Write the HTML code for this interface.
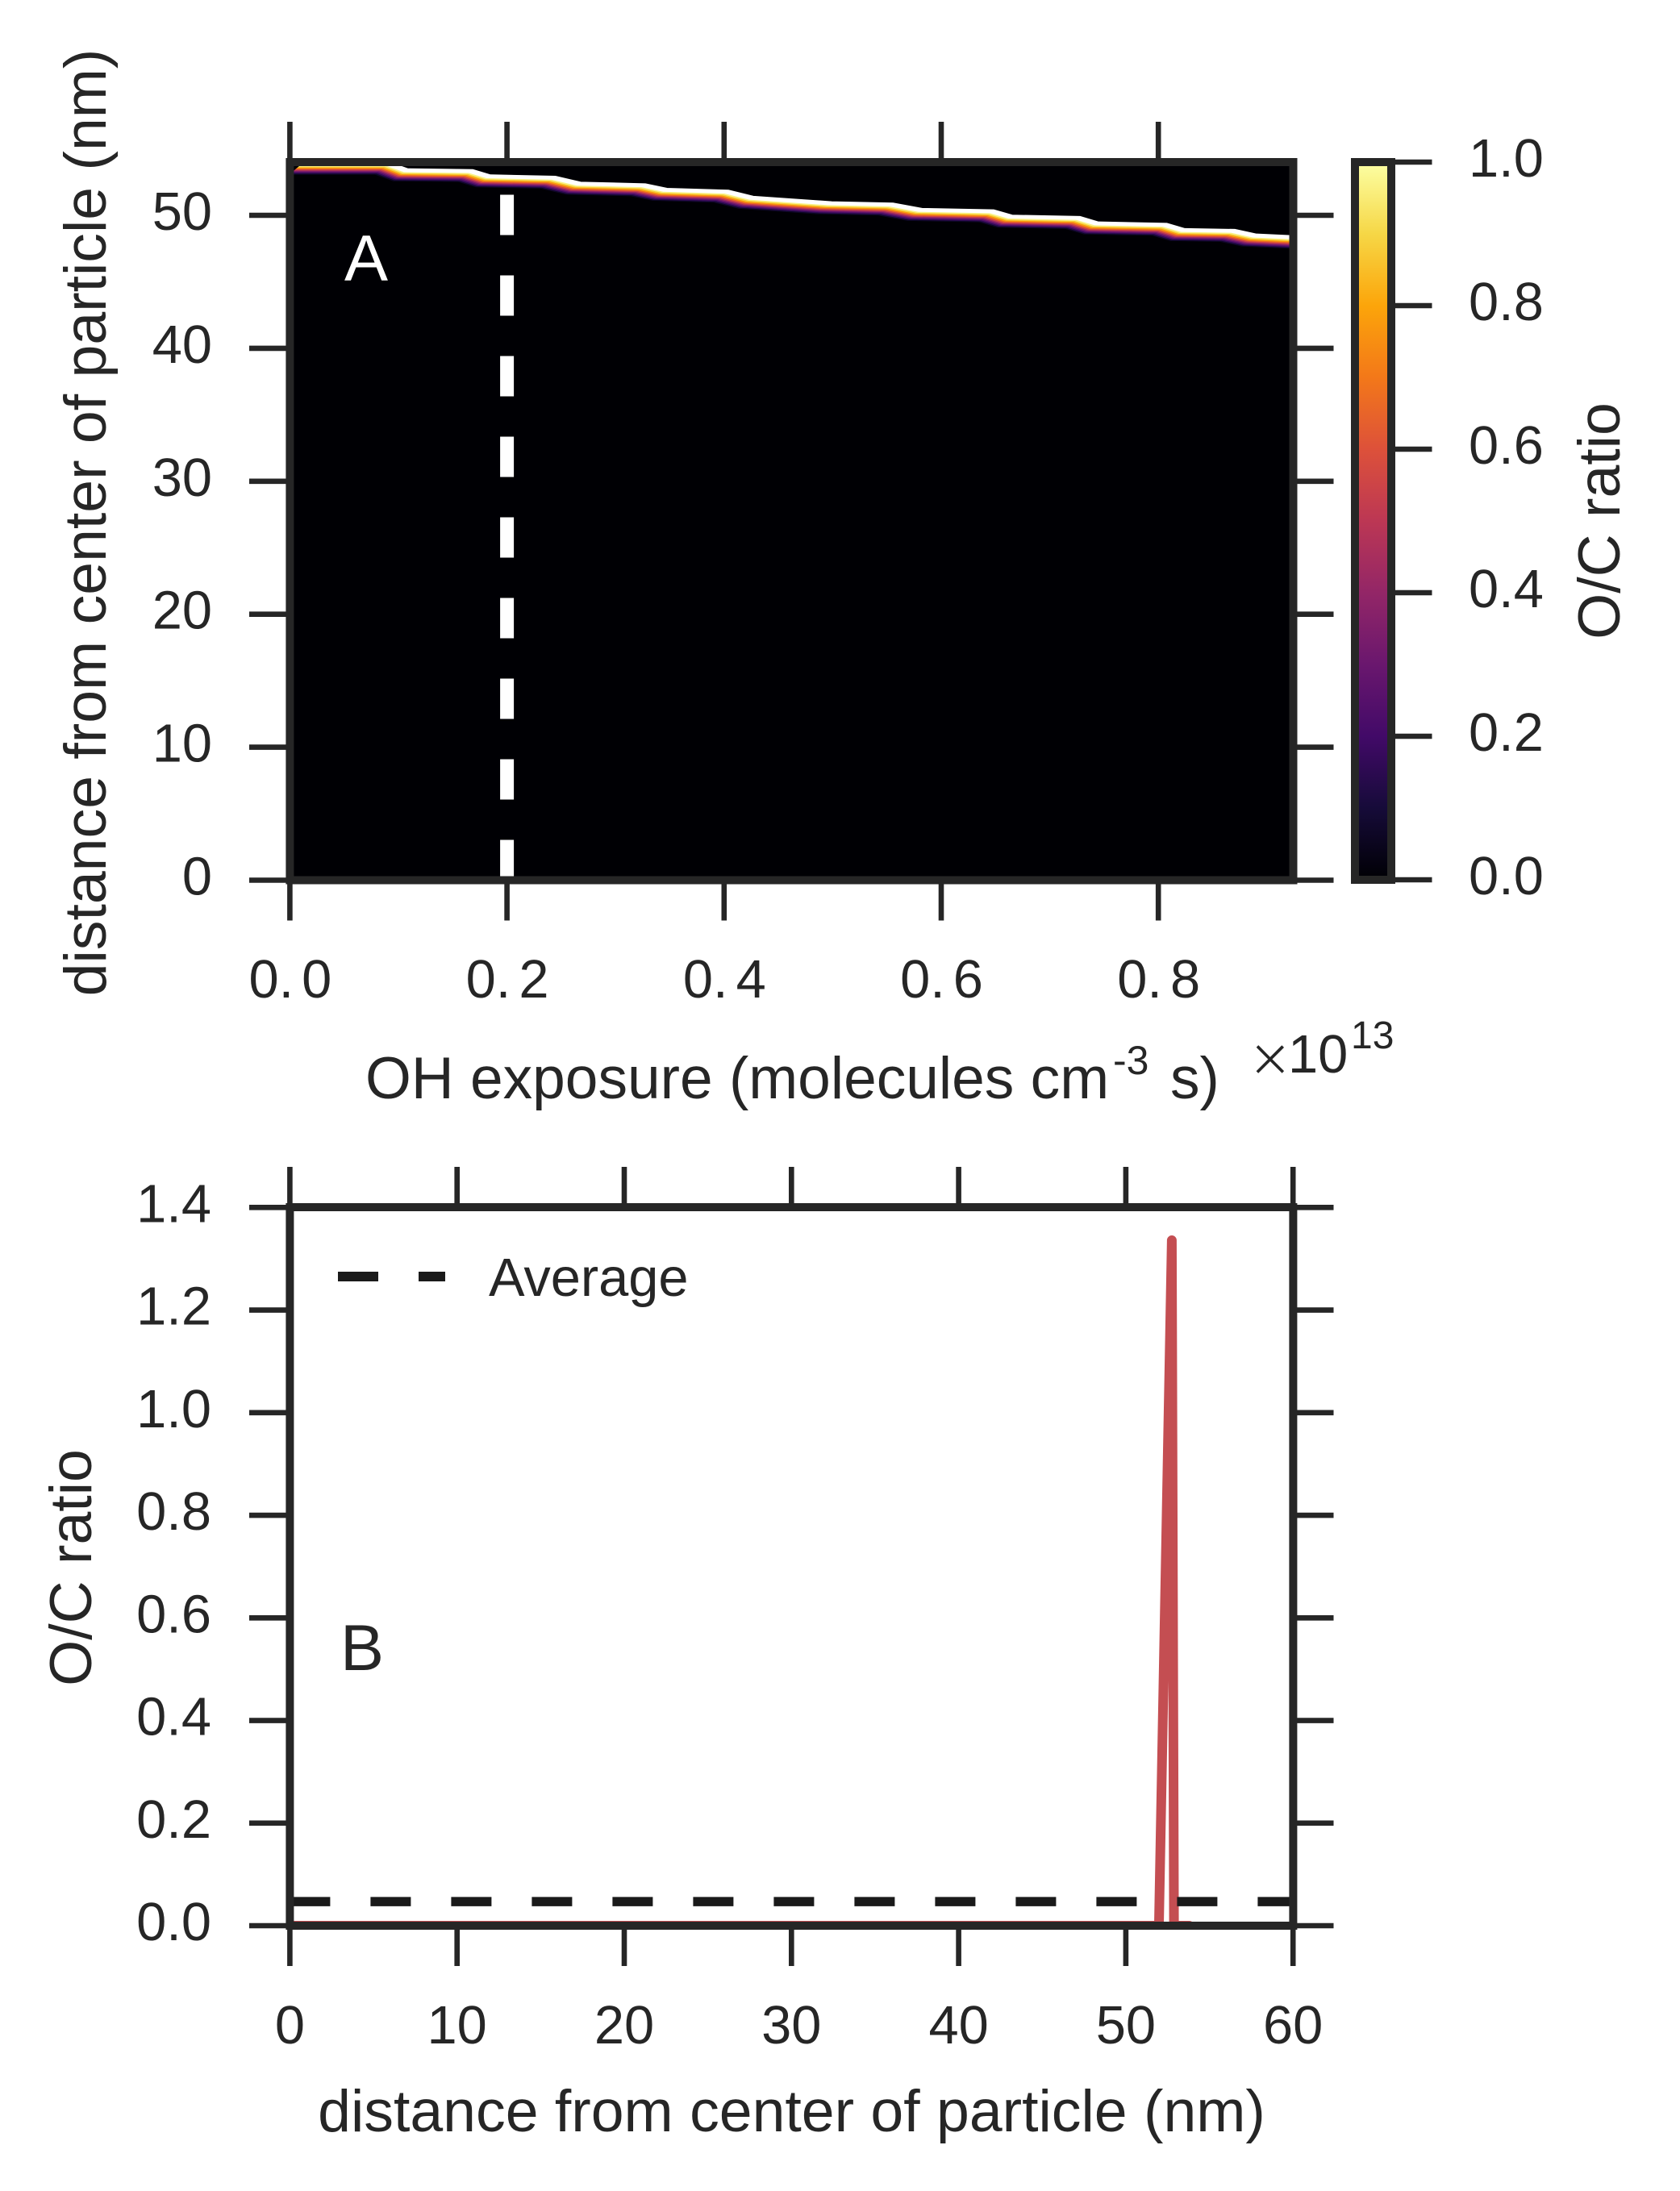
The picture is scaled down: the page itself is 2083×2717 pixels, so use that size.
<!DOCTYPE html>
<html lang="en">
<head>
<meta charset="utf-8">
<title>O/C ratio in a particle vs OH exposure</title>
<style>
html,body{margin:0;padding:0;background:#fff;}
svg{display:block;}
text{font-family:"Liberation Sans",Arial,sans-serif;fill:#262626;}
.tick{font-size:66.8px;}
.label{font-size:73.4px;}
.panel{font-size:81px;}
</style>
</head>
<body>
<svg id="chart" xmlns="http://www.w3.org/2000/svg" width="2083" height="2717" viewBox="0 0 2083 2717">
  <defs>
    <clipPath id="clip-a"><rect x="359.4" y="201" width="1244.1" height="890.5"/></clipPath>
    <clipPath id="clip-b"><rect x="359.4" y="1497" width="1244" height="891"/></clipPath>
    <linearGradient id="inferno-gradient" x1="0" y1="1" x2="0" y2="0"></linearGradient>
  </defs>
  <rect x="0" y="0" width="2083" height="2717" fill="#fff"/>

  <g id="ticks-layer"></g>

  <rect x="359.4" y="201" width="1244.1" height="890.5" fill="#000004"/>
  <g id="heatmap" clip-path="url(#clip-a)"></g>
  <g id="exposure-marker" clip-path="url(#clip-a)"></g>
  <text x="427" y="348" class="panel" style="fill:#fff">A</text>
  <rect x="359.4" y="201" width="1244.1" height="890.5" fill="none" stroke="#262626" stroke-width="10"/>

  <rect x="1680" y="201" width="45" height="890" fill="url(#inferno-gradient)"/>
  <rect x="1680" y="201" width="45" height="890" fill="none" stroke="#262626" stroke-width="10"/>

  <g id="line-layer" clip-path="url(#clip-b)"></g>
  <rect x="359.4" y="1497" width="1244" height="891" fill="none" stroke="#262626" stroke-width="10"/>
  <text x="422" y="2071" class="panel">B</text>

  <g>
    <line x1="419" y1="1583" x2="552" y2="1583" stroke="#1a1a1a" stroke-width="12" stroke-dasharray="50 50"/>
    <text x="606" y="1607" class="tick">Average</text>
  </g>

  <g id="tick-labels"></g>

  <text class="label" x="131" y="648" text-anchor="middle" transform="rotate(-90 131 648)">distance from center of particle (nm)</text>
  <text class="label" x="453" y="1362" style="font-size:73.1px">OH exposure (molecules cm<tspan x="1380" y="1332" font-size="50">-3</tspan><tspan x="1451" y="1362"> </tspan><tspan x="1451" y="1362">s)</tspan></text>
  <g>
    <text x="1550" y="1342" font-size="85" style="stroke:#fff;stroke-width:2.4px">×</text>
    <text class="tick" x="1597" y="1330">10</text>
    <text x="1675" y="1300" font-size="48">13</text>
  </g>
  <text class="label" x="2008" y="646" text-anchor="middle" transform="rotate(-90 2008 646)">O/C ratio</text>
  <text class="label" x="113" y="1944" text-anchor="middle" transform="rotate(-90 113 1944)">O/C ratio</text>
  <text class="label" x="981.5" y="2643" text-anchor="middle">distance from center of particle (nm)</text>
</svg>

<script>
// Panel A: particle surface position against OH exposure (units of 1e13)
const exposureValues = [0, 0.0785, 0.0952, 0.155, 0.1713, 0.2311, 0.2545, 0.314, 0.334, 0.3905, 0.4135, 0.4856, 0.5421, 0.5688, 0.6349, 0.652, 0.7144, 0.7314, 0.7943, 0.811, 0.857, 0.877, 0.92, 0.9245];
const surfaceRadius = [54.0, 54.0, 53.51, 53.45, 53.05, 52.95, 52.5, 52.38, 52.04, 51.9, 51.44, 51.03, 50.93, 50.53, 50.42, 50.02, 49.92, 49.51, 49.41, 49.01, 48.95, 48.6, 48.44, 48.41];
// O/C ratio with depth below the surface (nm)
const depthBelowSurface = [0.24, 0.32, 0.39, 0.46, 0.53, 0.6, 0.66, 0.72, 0.78, 0.85, 0.92];
const depthOCRatio = [1.2, 0.97, 0.88, 0.78, 0.66, 0.54, 0.42, 0.32, 0.24, 0.15, 0.06];
const markedExposure = [0.2];

// Panel B: O/C ratio profile at the marked exposure
const particleDistance = [0, 51.98, 52.75, 52.88, 53.8];
const profileOCRatio = [0, 0, 1.336, 0, 0];
const averageOCRatio = [0.047];

// Tick values and labels
const heatmapXTicks = [0, 0.2, 0.4, 0.6, 0.8];
const heatmapXLabels = ["0.0", "0.2", "0.4", "0.6", "0.8"];
const heatmapYTicks = [0, 10, 20, 30, 40, 50];
const heatmapYLabels = ["0", "10", "20", "30", "40", "50"];
const colorbarTicks = [0, 0.2, 0.4, 0.6, 0.8, 1];
const colorbarLabels = ["0.0", "0.2", "0.4", "0.6", "0.8", "1.0"];
const lineXTicks = [0, 10, 20, 30, 40, 50, 60];
const lineXLabels = ["0", "10", "20", "30", "40", "50", "60"];
const lineYTicks = [0, 0.2, 0.4, 0.6, 0.8, 1, 1.2, 1.4];
const lineYLabels = ["0.0", "0.2", "0.4", "0.6", "0.8", "1.0", "1.2", "1.4"];

// Inferno colormap at eleven even stops
const infernoColors = ["#000004", "#160b39", "#420a68", "#6a176e", "#932667", "#bc3754", "#dd513a", "#f37819", "#fca50a", "#f6d746", "#fcffa4"];

const NS = "http://www.w3.org/2000/svg";

// Axis functions
function xHeat(v) { return 359.4 + v * 1346; }
function yHeat(v) { return 1091.5 - v * 16.49; }
function yColor(v) { return 1091 - v * 890; }
function xLine(v) { return 359.4 + v * 20.73; }
function yLine(v) { return 2388 - v * 636.2; }

function hexToRgb(h) {
  return [parseInt(h.substr(1, 2), 16), parseInt(h.substr(3, 2), 16), parseInt(h.substr(5, 2), 16)];
}
function inferno(v) {
  if (v > 1) { return "#ffffff"; }
  const p = Math.max(0, v) * (infernoColors.length - 1);
  const i = Math.min(Math.floor(p), infernoColors.length - 2);
  const f = p - i;
  const a = hexToRgb(infernoColors[i]);
  const b = hexToRgb(infernoColors[i + 1]);
  return "rgb(" + [0, 1, 2].map(function (k) { return Math.round(a[k] + (b[k] - a[k]) * f); }).join(",") + ")";
}

// Colorbar gradient
const gradient = document.getElementById("inferno-gradient");
infernoColors.forEach(function (c, i) {
  const stop = document.createElementNS(NS, "stop");
  stop.setAttribute("offset", i / (infernoColors.length - 1));
  stop.setAttribute("stop-color", c);
  gradient.appendChild(stop);
});

// Heatmap band, deepest layer first. Each oxidation step reaches deeper layers
// slightly earlier in exposure than the surface layer.
const heatmap = document.getElementById("heatmap");
const deepest = depthBelowSurface[depthBelowSurface.length - 1];
function layerLag(depth) { return (deepest - depth) * 0.0147; }
for (let j = depthBelowSurface.length - 1; j >= 0; j--) {
  const upperLag = j === 0 ? layerLag(0) : layerLag(depthBelowSurface[j - 1]);
  const lowerLag = layerLag(depthBelowSurface[j]);
  const upperDepth = j === 0 ? 0 : depthBelowSurface[j - 1];
  const top = exposureValues.map(function (e, i) { return xHeat(e + upperLag) + "," + yHeat(surfaceRadius[i] - upperDepth); });
  const bottom = exposureValues.map(function (e, i) { return xHeat(e + lowerLag) + "," + yHeat(surfaceRadius[i] - depthBelowSurface[j]); }).reverse();
  const cell = document.createElementNS(NS, "polygon");
  cell.setAttribute("points", top.concat(bottom).join(" "));
  cell.setAttribute("fill", inferno(depthOCRatio[j]));
  cell.setAttribute("stroke", inferno(depthOCRatio[j]));
  cell.setAttribute("stroke-width", "0.8");
  
  
  heatmap.appendChild(cell);
}

// Vertical marker at the profiled exposure
const marker = document.createElementNS(NS, "line");
marker.setAttribute("x1", xHeat(markedExposure[0]));
marker.setAttribute("x2", xHeat(markedExposure[0]));
marker.setAttribute("y1", yHeat(0));
marker.setAttribute("y2", yHeat(54));
marker.setAttribute("stroke", "#ffffff");
marker.setAttribute("stroke-width", "17");
marker.setAttribute("stroke-dasharray", "50 50");


document.getElementById("exposure-marker").appendChild(marker);

// Line plot
const lineLayer = document.getElementById("line-layer");
const profileLine = document.createElementNS(NS, "polyline");
profileLine.setAttribute("points", particleDistance.map(function (d, i) { return xLine(d) + "," + yLine(profileOCRatio[i]); }).join(" "));
profileLine.setAttribute("fill", "none");
profileLine.setAttribute("stroke", "#c44e52");
profileLine.setAttribute("stroke-width", "12");
profileLine.setAttribute("stroke-linecap", "round");
profileLine.setAttribute("stroke-linejoin", "round");


lineLayer.appendChild(profileLine);

const averageLine = document.createElementNS(NS, "line");
averageLine.setAttribute("x1", xLine(0));
averageLine.setAttribute("x2", xLine(60));
averageLine.setAttribute("y1", yLine(averageOCRatio[0]));
averageLine.setAttribute("y2", yLine(averageOCRatio[0]));
averageLine.setAttribute("stroke", "#1a1a1a");
averageLine.setAttribute("stroke-width", "11.5");
averageLine.setAttribute("stroke-dasharray", "50 50");


lineLayer.appendChild(averageLine);

// Ticks and labels
const ticksLayer = document.getElementById("ticks-layer");
const labelsLayer = document.getElementById("tick-labels");

function addTick(x1, y1, x2, y2) {
  const t = document.createElementNS(NS, "line");
  t.setAttribute("x1", x1);
  t.setAttribute("y1", y1);
  t.setAttribute("x2", x2);
  t.setAttribute("y2", y2);
  t.setAttribute("stroke", "#262626");
  t.setAttribute("stroke-width", "6.6");
  
  
  ticksLayer.appendChild(t);
}
function addLabel(x, y, anchor, str) {
  const t = document.createElementNS(NS, "text");
  t.setAttribute("class", "tick");
  t.setAttribute("x", x);
  t.setAttribute("y", y);
  t.setAttribute("text-anchor", anchor);
  
  
  t.textContent = str;
  labelsLayer.appendChild(t);
  return t;
}

heatmapXTicks.forEach(function (v, i) {
  const x = xHeat(v);
  addTick(x, 151, x, 201);
  addTick(x, 1091.5, x, 1141.5);
  const parts = heatmapXLabels[i].split(".");
  const t = addLabel(x + 0.5, 1237, "middle", parts[0] + ".");
  const frac = document.createElementNS(NS, "tspan");
  frac.setAttribute("dx", "10");
  frac.textContent = parts[1];
  t.appendChild(frac);
});
heatmapYTicks.forEach(function (v, i) {
  const y = yHeat(v);
  addTick(309, y, 359, y);
  addTick(1604, y, 1653.5, y);
  addLabel(263, y + 18, "end", heatmapYLabels[i]);
});
colorbarTicks.forEach(function (v, i) {
  const y = yColor(v);
  addTick(1725, y, 1775.5, y);
  addLabel(1821, y + 18, "start", colorbarLabels[i]);
});
lineXTicks.forEach(function (v, i) {
  const x = xLine(v);
  addTick(x, 1447, x, 1497);
  addTick(x, 2388, x, 2438);
  addLabel(x, 2534, "middle", lineXLabels[i]);
});
lineYTicks.forEach(function (v, i) {
  const y = yLine(v);
  addTick(309, y, 359, y);
  addTick(1604, y, 1653.5, y);
  addLabel(262, y + 18, "end", lineYLabels[i]);
});
</script>
</body>
</html>
